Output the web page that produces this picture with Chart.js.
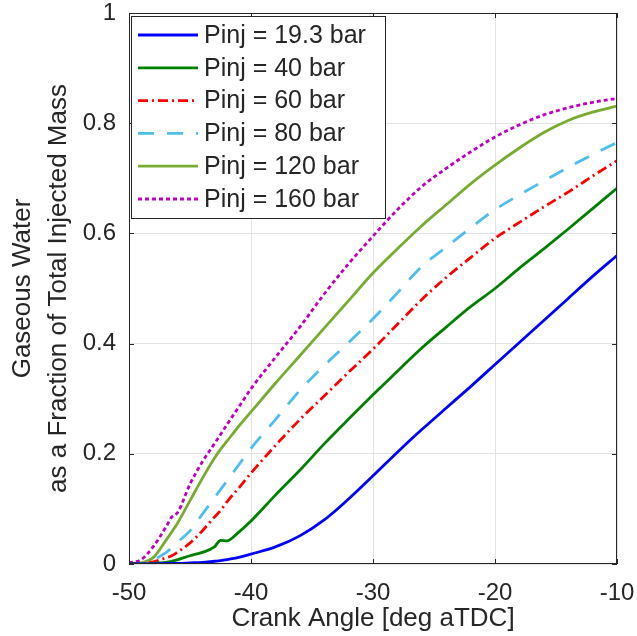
<!DOCTYPE html>
<html lang="en">
<head>
    <meta charset="UTF-8">
    <title>Gaseous Water vs Crank Angle</title>
    <script src="https://cdn.jsdelivr.net/npm/chart.js"></script>
    <style>
        body { margin: 0; background: #fff; }
        canvas { display: block; }
    </style>
</head>
<body>
    <canvas id="waterChart" width="637" height="636"></canvas>
<script>
    // values
    const crankAngle = [-50, -49, -48, -47, -46.5, -46, -45, -44, -43, -42.5, -42, -41, -40, -38, -36, -34, -32, -30, -28, -26, -24, -22, -20, -18, -16, -14, -12, -10];
    const p19 = [0, 0, 0, 0.001, 0.001, 0.001, 0.002, 0.003, 0.005, 0.006, 0.008, 0.012, 0.018, 0.031, 0.051, 0.08, 0.118, 0.16, 0.203, 0.244, 0.283, 0.322, 0.362, 0.402, 0.442, 0.482, 0.522, 0.56];
    const p40 = [0, 0, 0.001, 0.003, 0.005, 0.008, 0.015, 0.021, 0.031, 0.043, 0.042, 0.058, 0.078, 0.125, 0.17, 0.218, 0.263, 0.307, 0.35, 0.392, 0.43, 0.467, 0.5, 0.537, 0.572, 0.608, 0.645, 0.682];
    const p60 = [0, 0.001, 0.004, 0.011, 0.015, 0.022, 0.038, 0.06, 0.085, 0.097, 0.112, 0.138, 0.165, 0.215, 0.262, 0.305, 0.348, 0.39, 0.435, 0.48, 0.52, 0.556, 0.591, 0.62, 0.648, 0.675, 0.704, 0.732];
    const p80 = [0, 0.001, 0.008, 0.02, 0.03, 0.04, 0.06, 0.09, 0.12, 0.135, 0.15, 0.18, 0.21, 0.262, 0.315, 0.36, 0.402, 0.445, 0.492, 0.54, 0.575, 0.61, 0.643, 0.67, 0.695, 0.72, 0.743, 0.765];
    const p120 = [0, 0.002, 0.012, 0.042, 0.058, 0.075, 0.115, 0.155, 0.192, 0.208, 0.222, 0.25, 0.276, 0.328, 0.378, 0.428, 0.478, 0.528, 0.572, 0.614, 0.652, 0.69, 0.724, 0.755, 0.783, 0.805, 0.82, 0.831];
    const p160 = [0.002, 0.008, 0.032, 0.066, 0.085, 0.094, 0.145, 0.185, 0.218, 0.235, 0.252, 0.285, 0.318, 0.375, 0.43, 0.49, 0.545, 0.595, 0.643, 0.685, 0.718, 0.748, 0.775, 0.797, 0.815, 0.828, 0.838, 0.845];
    const seriesLabels = ["Pinj = 19.3 bar", "Pinj = 40 bar", "Pinj = 60 bar", "Pinj = 80 bar", "Pinj = 120 bar", "Pinj = 160 bar"];
    const xTicks = [-50, -40, -30, -20, -10];
    const yTicks = [0, 0.2, 0.4, 0.6, 0.8, 1];

    const FONT = "'Liberation Sans', Arial, Helvetica, sans-serif";
    const TEXT = '#262626';

    function toPoints(values) {
        return crankAngle.map((a, i) => ({ x: a, y: values[i] }));
    }

    function makeSet(label, values, color, dash) {
        return {
            label: label,
            data: toPoints(values),
            borderColor: color,
            backgroundColor: color,
            borderWidth: 2.8,
            borderDash: dash,
            pointRadius: 0,
            fill: false,
            cubicInterpolationMode: 'monotone'
        };
    }

    // MATLAB-like box, inward ticks and boxed legend
    const boxPlugin = {
        id: 'boxPlugin',
        afterDatasetsDraw(chart) {
            const { ctx, chartArea: a, scales } = chart;
            ctx.save();
            ctx.strokeStyle = TEXT;
            ctx.lineWidth = 1;
            ctx.setLineDash([]);
            ctx.strokeRect(a.left + 0.5, a.top + 0.5, a.right - a.left - 1, a.bottom - a.top - 1);
            ctx.beginPath();
            xTicks.forEach(v => {
                const px = Math.round(scales.x.getPixelForValue(v)) + 0.5;
                ctx.moveTo(px, a.bottom); ctx.lineTo(px, a.bottom - 5);
                ctx.moveTo(px, a.top); ctx.lineTo(px, a.top + 5);
            });
            yTicks.forEach(v => {
                const py = Math.round(scales.y.getPixelForValue(v)) + 0.5;
                ctx.moveTo(a.left, py); ctx.lineTo(a.left + 5, py);
                ctx.moveTo(a.right, py); ctx.lineTo(a.right - 5, py);
            });
            ctx.stroke();

            // legend
            const lx = a.left + 2, ly = a.top + 3, lw = 254, lh = 202;
            ctx.fillStyle = '#fff';
            ctx.fillRect(lx, ly, lw, lh);
            ctx.strokeStyle = TEXT;
            ctx.strokeRect(lx + 0.5, ly + 0.5, lw, lh);
            ctx.font = '25px ' + FONT;
            ctx.textBaseline = 'middle';
            chart.data.datasets.forEach((ds, i) => {
                const y = ly + 19 + i * 32.8;
                ctx.strokeStyle = ds.borderColor;
                ctx.lineWidth = ds.borderWidth;
                ctx.setLineDash(ds.borderDash || []);
                ctx.beginPath();
                ctx.moveTo(lx + 7, y);
                ctx.lineTo(lx + 67, y);
                ctx.stroke();
                ctx.setLineDash([]);
                ctx.fillStyle = TEXT;
                ctx.fillText(ds.label, lx + 73, y + 1);
            });
            ctx.restore();
        }
    };

    new Chart(document.getElementById('waterChart'), {
        type: 'line',
        data: {
            datasets: [
                makeSet(seriesLabels[0], p19, '#0000ff', []),
                makeSet(seriesLabels[1], p40, '#008000', []),
                makeSet(seriesLabels[2], p60, '#ff0000', [10, 4, 2, 4]),
                makeSet(seriesLabels[3], p80, '#4dbeee', [16, 13]),
                makeSet(seriesLabels[4], p120, '#77ac30', []),
                makeSet(seriesLabels[5], p160, '#bf00bf', [4, 3])
            ]
        },
        options: {
            responsive: false,
            animation: false,
            events: [],
            layout: { padding: { top: 13, right: 20, left: 0, bottom: 0 } },
            plugins: {
                legend: { display: false },
                tooltip: { enabled: false }
            },
            scales: {
                x: {
                    type: 'linear',
                    min: -50,
                    max: -10,
                    afterBuildTicks: s => { s.ticks = xTicks.map(v => ({ value: v })); },
                    afterFit: s => { s.height = 72; s.paddingLeft = 0; s.paddingRight = 0; },
                    grid: { color: '#e3e3e3', drawTicks: false },
                    border: { display: false },
                    ticks: { color: TEXT, font: { family: FONT, size: 24, lineHeight: 1.0 }, padding: 17, maxRotation: 0 },
                    title: { display: true, text: 'Crank Angle [deg aTDC]', color: TEXT, font: { family: FONT, size: 26, lineHeight: 1.2 }, padding: { top: 0, bottom: 2 } }
                },
                y: {
                    min: 0,
                    max: 1,
                    afterBuildTicks: s => { s.ticks = yTicks.map(v => ({ value: v })); },
                    afterFit: s => { s.width = 129; s.paddingTop = 0; s.paddingBottom = 0; },
                    grid: { color: '#e3e3e3', drawTicks: false },
                    border: { display: false },
                    ticks: { color: TEXT, font: { family: FONT, size: 24, lineHeight: 1.0 }, padding: 13, callback: v => String(Number(v.toFixed(1))) },
                    title: { display: true, text: ['Gaseous Water', 'as a Fraction of Total Injected Mass'], color: TEXT, font: { family: FONT, size: 26, lineHeight: 1.38 }, padding: { top: 5, bottom: 0 } }
                }
            }
        },
        plugins: [boxPlugin]
    });
</script>
</body>
</html>
